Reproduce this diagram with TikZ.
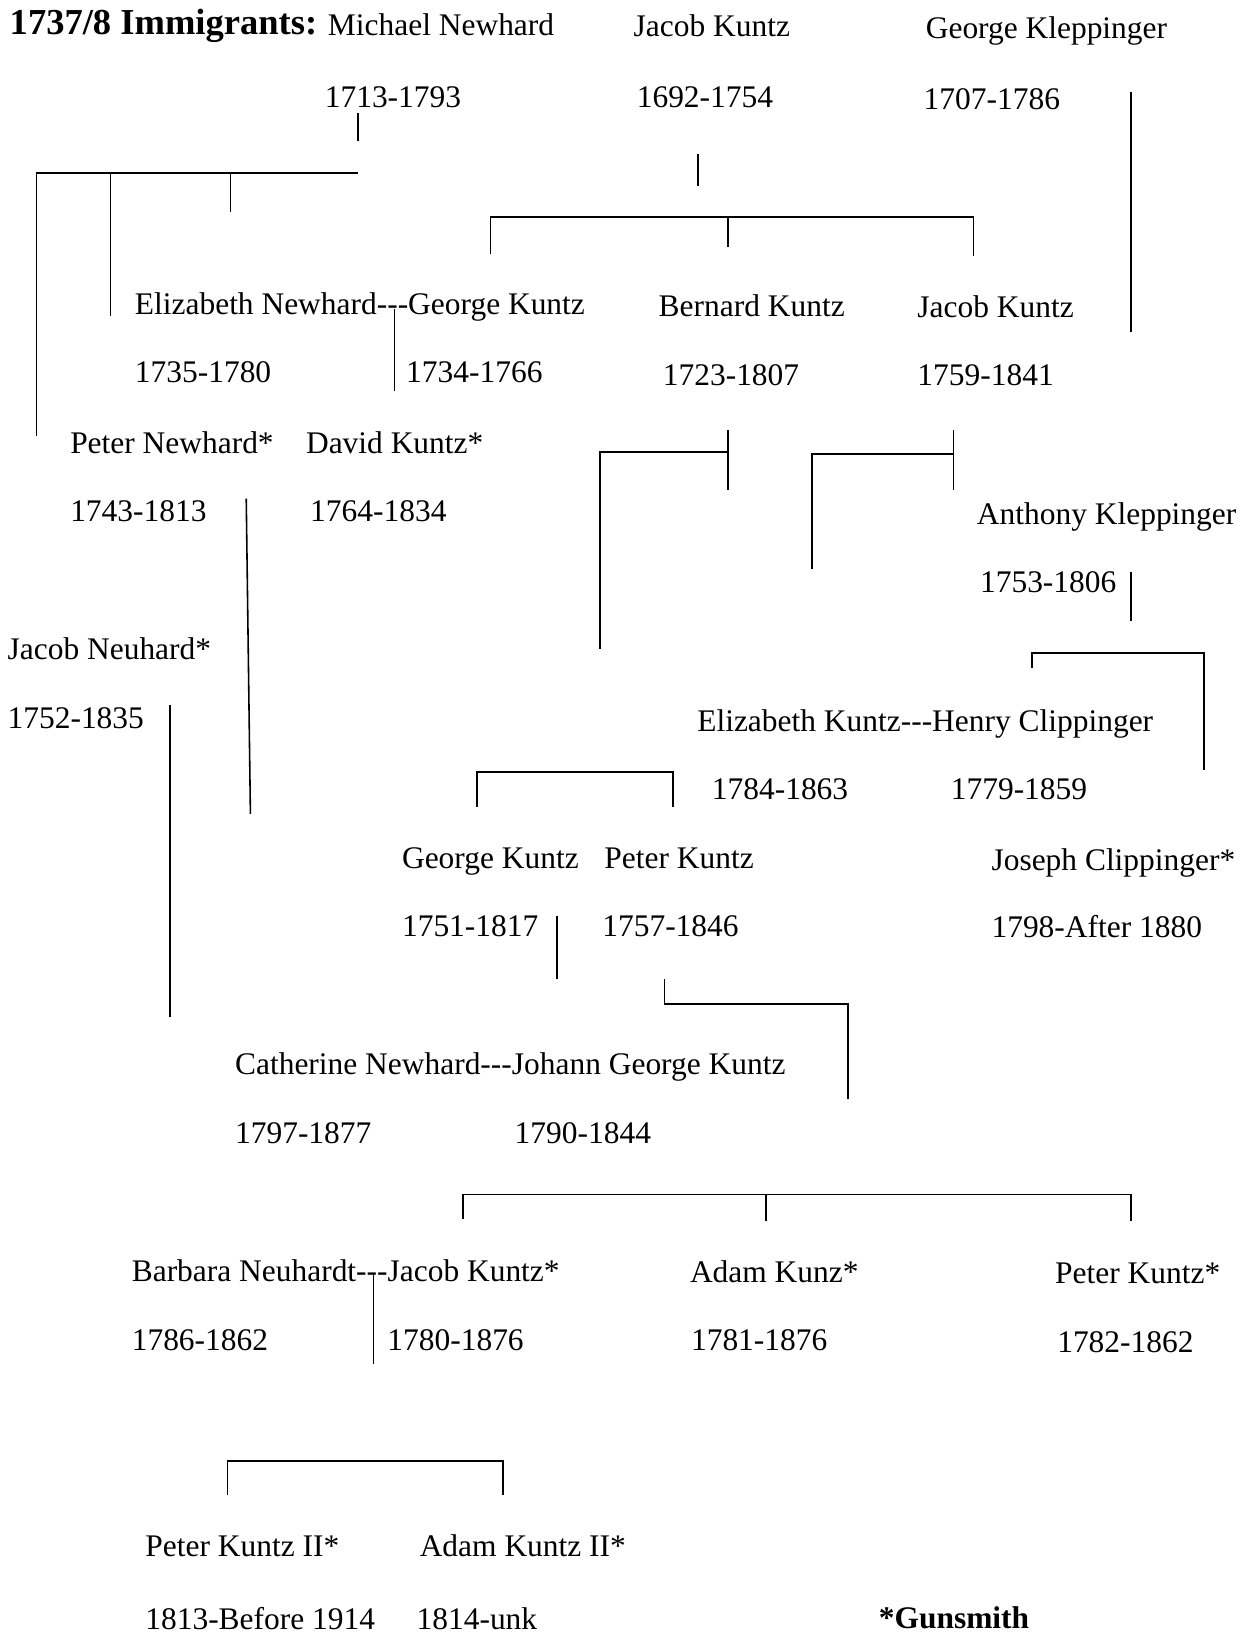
\documentclass[tikz,border=0pt]{standalone}
\usepackage{fontspec}
\setmainfont{Liberation Serif}
\newcommand{\tridash}{-\kern0pt-\kern0pt-}

\begin{document}
\begin{tikzpicture}[
  x=0.020872cm,y=-0.020872cm,
  font=\fontsize{17.9}{20}\selectfont,
  person/.style={anchor=base west,inner sep=0pt},
  tie/.style={draw=black,line width=0.9pt}
]
\useasboundingbox (0,0) rectangle (1192,1568);
% immigrants
\node[person,font=\fontsize{20.8}{24}\selectfont\bfseries] (hd) at (9,33) {1737/8 Immigrants:};
\node[person] (mn) at (314,34) {Michael Newhard};
\node[person] (mnY) at (311,103) {1713-1793};
\node[person] (jk) at (607,35) {Jacob Kuntz};
\node[person] (jkY) at (610,103) {1692-1754};
\node[person] (gk) at (887,37) {George Kleppinger};
\node[person] (gkY) at (885,105) {1707-1786};
% second generation
\node[person] (en) at (129,301) {Elizabeth Newhard\tridash George Kuntz};
\node[person] (enY) at (129,367) {1735-1780};
\node[person] (gzY) at (389,367) {1734-1766};
\node[person] (bk) at (631,303) {Bernard Kuntz};
\node[person] (bkY) at (635,369) {1723-1807};
\node[person] (jb) at (879,304) {Jacob Kuntz};
\node[person] (jbY) at (879,369) {1759-1841};
\node[person] (pn) at (67,435) {Peter Newhard*};
\node[person] (pnY) at (67,500) {1743-1813};
\node[person] (dk) at (293,435) {David Kuntz*};
\node[person] (dkY) at (297,500) {1764-1834};
\node[person] (ak) at (936,503) {Anthony Kleppinger};
\node[person] (akY) at (939,568) {1753-1806};
\node[person] (jn) at (7,632) {Jacob Neuhard*};
\node[person] (jnY) at (7,698) {1752-1835};
% third generation
\node[person] (ek) at (668,701) {Elizabeth Kuntz\tridash Henry Clippinger};
\node[person] (ekY) at (682,766) {1784-1863};
\node[person] (hcY) at (911,766) {1779-1859};
\node[person] (gz) at (385,832) {George Kuntz};
\node[person] (gzY2) at (385,898) {1751-1817};
\node[person] (pk) at (579,832) {Peter Kuntz};
\node[person] (pkY) at (577,898) {1757-1846};
\node[person] (jc) at (950,834) {Joseph Clippinger*};
\node[person] (jcY) at (950,899) {1798-After 1880};
\node[person] (cn) at (225,1030) {Catherine Newhard\tridash Johann George Kuntz};
\node[person] (cnY) at (225,1096) {1797-1877};
\node[person] (jgY) at (493,1096) {1790-1844};
% fourth generation
\node[person] (bn) at (126,1228) {Barbara Neuhardt\tridash Jacob Kuntz*};
\node[person] (bnY) at (126,1294) {1786-1862};
\node[person] (jzY) at (371,1294) {1780-1876};
\node[person] (ad) at (661,1229) {Adam Kunz*};
\node[person] (adY) at (662,1294) {1781-1876};
\node[person] (pz) at (1011,1230) {Peter Kuntz*};
\node[person] (pzY) at (1013,1296) {1782-1862};
\node[person] (p2) at (139,1492) {Peter Kuntz II*};
\node[person] (p2Y) at (139,1562) {1813-Before 1914};
\node[person] (a2) at (402,1492) {Adam Kuntz II*};
\node[person] (a2Y) at (399,1562) {1814-unk};
\node[person,font=\fontsize{17.9}{20}\selectfont\bfseries] (note) at (842,1561) {*Gunsmith};
% line ends
\coordinate (m0) at (343,108); \coordinate (m1) at (343,135);
\coordinate (m2) at (343,166); \coordinate (m3) at (35,418);
\coordinate (m4) at (106,166); \coordinate (m5) at (106,303);
\coordinate (m6) at (221,166); \coordinate (m7) at (221,203);
\coordinate (g0) at (1084,88); \coordinate (g1) at (1084,318);
\coordinate (j0) at (669,148); \coordinate (j1) at (669,178);
\coordinate (j2) at (470,243); \coordinate (j3) at (933,245);
\coordinate (j4) at (698,208); \coordinate (j5) at (698,237);
\coordinate (e0) at (378,296); \coordinate (e1) at (378,375);
\coordinate (b0) at (698,412); \coordinate (b1) at (698,470);
\coordinate (b2) at (698,433); \coordinate (b3) at (575,622);
\coordinate (k0) at (914,412); \coordinate (k1) at (914,470);
\coordinate (k2) at (914,435); \coordinate (k3) at (778,545);
\coordinate (a0) at (1084,548); \coordinate (a1) at (1084,595);
\coordinate (a2) at (989,640); \coordinate (a3) at (1154,738);
\coordinate (p0) at (236,478); \coordinate (p1) at (240,780);
\coordinate (n0) at (163,676); \coordinate (n1) at (163,975);
\coordinate (s0) at (457,773); \coordinate (s1) at (645,773);
\coordinate (r0) at (534,878); \coordinate (r1) at (534,938);
\coordinate (t0) at (637,938); \coordinate (t1) at (813,1053);
\coordinate (c0) at (444,1168); \coordinate (c1) at (1084,1170);
\coordinate (c2) at (734,1145); \coordinate (c3) at (734,1170);
\coordinate (d0) at (358,1220); \coordinate (d1) at (358,1307);
\coordinate (f0) at (218,1433); \coordinate (f1) at (482,1433);
% connectors
\draw[tie] (m0) -- (m1);
\draw[tie] (m3) |- (m2);
\draw[tie] (m4) -- (m5);
\draw[tie] (m6) -- (m7);
\draw[tie] (g0) -- (g1);
\draw[tie] (j0) -- (j1);
\draw[tie] (j2) -- ++(0,-35) -| (j3);
\draw[tie] (j4) -- (j5);
\draw[tie] (e0) -- (e1);
\draw[tie] (b0) -- (b1);
\draw[tie] (b2) -| (b3);
\draw[tie] (k0) -- (k1);
\draw[tie] (k2) -| (k3);
\draw[tie] (a0) -- (a1);
\draw[tie] (a2) -- ++(0,-14) -| (a3);
\draw[tie] (p0) -- (p1);
\draw[tie] (n0) -- (n1);
\draw[tie] (s0) -- ++(0,-33) -| (s1);
\draw[tie] (r0) -- (r1);
\draw[tie] (t0) -- ++(0,24) -| (t1);
\draw[tie] (c0) -- ++(0,-23) -| (c1);
\draw[tie] (c2) -- (c3);
\draw[tie] (d0) -- (d1);
\draw[tie] (f0) -- ++(0,-33) -| (f1);
\end{tikzpicture}
\end{document}
